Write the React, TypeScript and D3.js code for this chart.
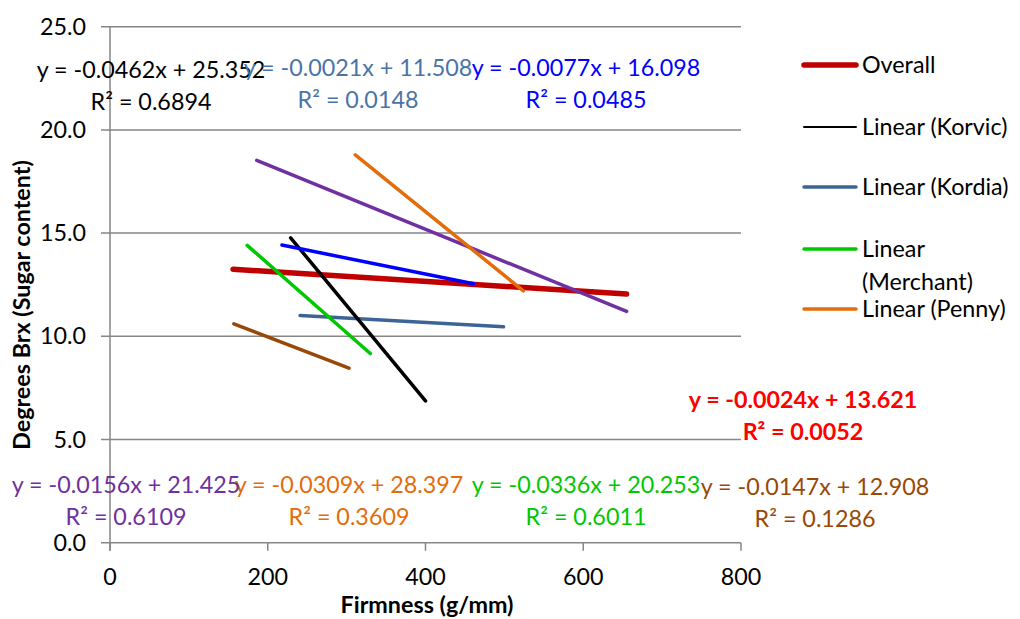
import React from "react";
import * as d3 from "d3";

const seriesNames = ["Overall", "Korvic", "Kordia", "Blue", "Merchant", "Penny", "Purple", "Brown"];
const xStart = [156, 229, 241, 218, 174, 311, 186, 157];
const xEnd = [655, 400, 499, 461, 330, 524, 655, 303];
const slopes = [-0.0024, -0.0462, -0.0021, -0.0077, -0.0336, -0.0309, -0.0156, -0.0147];
const intercepts = [13.621, 25.352, 11.508, 16.098, 20.253, 28.397, 21.425, 12.908];
const rSquared = ["0.0052", "0.6894", "0.0148", "0.0485", "0.6011", "0.3609", "0.6109", "0.1286"];
const eqIntercepts = ["13.621", "25.352", "11.508", "16.098", "20.253", "28.397", "21.425", "12.908"];

const legendLabels = [["Overall"], ["Linear (Korvic)"], ["Linear (Kordia)"], ["Linear", "(Merchant)"], ["Linear (Penny)"]];
const legendSeries = [0, 1, 2, 4, 5];

const xTicks = [0, 200, 400, 600, 800];
const yTicks = [0, 5, 10, 15, 20, 25];

// styles / layout (not data)
const lineColors = ["#C00000", "#000000", "#3C6496", "#0000FF", "#00C800", "#E46C0A", "#7030A0", "#984807"];
const textColors = ["#FF0000", "#000000", "#4A74A6", "#0000FF", "#00C800", "#E46C0A", "#7030A0", "#984807"];
const lineWidths = [5.5, 3.5, 3.5, 3.5, 3.5, 3.5, 3.5, 3.5];
const legendWidths = [5.5, 2, 3.5, 3.5, 3.5];
const labelPos: [number, number][] = [
  [803, 408],
  [151, 78],
  [358, 76],
  [586, 76],
  [586, 493],
  [349, 493],
  [126, 493],
  [815, 495],
];

const FONT = "Lato, 'Open Sans', sans-serif";
const FS = 23.3;

export default function App() {
  const x = d3.scaleLinear().domain([0, 800]).range([110, 741]);
  const y = d3.scaleLinear().domain([0, 25]).range([542.7, 26.7]);
  const line = d3
    .line<[number, number]>()
    .x((d) => x(d[0]))
    .y((d) => y(d[1]));
  const grid = "#868686";

  const fmtSlope = (s: number) => "y = " + d3.format(".4f")(s).replace("−", "-") + "x + ";

  return (
    <svg width={1020} height={619} style={{ position: "absolute", left: 0, top: 0, background: "#fff" }} fontFamily={FONT}>
      {yTicks.map((t) => (
        <line key={"g" + t} x1={101} x2={741} y1={y(t)} y2={y(t)} stroke={grid} strokeWidth={1.5} />
      ))}
      <line x1={x(0)} x2={x(0)} y1={y(25)} y2={y(0) + 8} stroke={grid} strokeWidth={1.5} />
      {xTicks.map((t) => (
        <line key={"xt" + t} x1={x(t)} x2={x(t)} y1={y(0)} y2={y(0) + 8} stroke={grid} strokeWidth={1.5} />
      ))}
      {yTicks.map((t) => (
        <text key={"yl" + t} x={86} y={y(t) + 8} textAnchor="end" fontSize={FS} fill="#000">
          {d3.format(".1f")(t)}
        </text>
      ))}
      {xTicks.map((t) => (
        <text key={"xl" + t} x={x(t)} y={585} textAnchor="middle" fontSize={FS} fill="#000">
          {t}
        </text>
      ))}
      <text x={427} y={613} textAnchor="middle" fontSize={FS} fontWeight="bold">
        Firmness (g/mm)
      </text>
      <text transform="translate(30,305) rotate(-90)" textAnchor="middle" fontSize={FS} fontWeight="bold">
        Degrees Brx (Sugar content)
      </text>
      {[0, 7, 6, 5, 2, 4, 1, 3].map((i) => (
        <path
          key={"l" + i}
          d={line([
            [xStart[i], intercepts[i] + slopes[i] * xStart[i]],
            [xEnd[i], intercepts[i] + slopes[i] * xEnd[i]],
          ])!}
          stroke={lineColors[i]}
          strokeWidth={lineWidths[i]}
          strokeLinecap="round"
          fill="none"
        />
      ))}
      {seriesNames.map((n, i) => (
        <g key={"eq" + n} fill={textColors[i]} fontSize={FS} fontWeight={i === 0 ? "bold" : "normal"} textAnchor="middle">
          <text x={labelPos[i][0]} y={labelPos[i][1]}>
            {fmtSlope(slopes[i]) + eqIntercepts[i]}
          </text>
          <text x={labelPos[i][0]} y={labelPos[i][1] + 32}>
            {"R² = " + rSquared[i]}
          </text>
        </g>
      ))}
      {legendSeries.map((si, k) => {
        const ly = [65, 127, 187, 249, 309][k];
        return (
          <g key={"lg" + k}>
            <line x1={804} x2={856} y1={ly} y2={ly} stroke={lineColors[si]} strokeWidth={legendWidths[k]} strokeLinecap="round" />
            {legendLabels[k].map((t, j) => (
              <text key={j} x={862} y={ly + 8 + j * 33} fontSize={FS} fill="#000">
                {t}
              </text>
            ))}
          </g>
        );
      })}
    </svg>
  );
}
